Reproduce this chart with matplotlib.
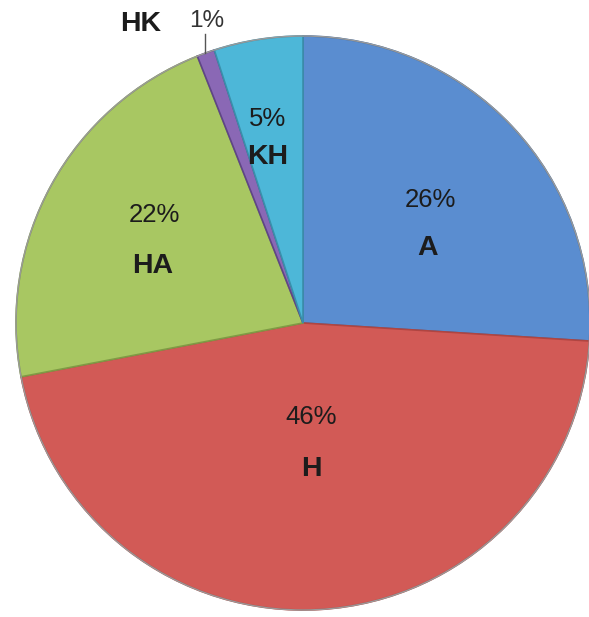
import matplotlib
matplotlib.use("Agg")
import matplotlib.pyplot as plt

# ── Datos ───────────────────────────────────────────────────
categorias = ["A", "H", "HA", "HK", "KH"]
valores = [26, 46, 22, 1, 5]
colores = ["#5a8dd0", "#d25a56", "#a8c762", "#8a68b5", "#4db7d8"]
bordes = ["#3d6aa3", "#b04541", "#7f9b45", "#5f4586", "#3a8fab"]

W, H = 589, 617
CX, CY, R = 303, 323, 287   # centro y radio en px de imagen


def yd(y_img):
    # coordenada de imagen (origen arriba) -> datos (origen abajo)
    return H - y_img


fig = plt.figure(figsize=(W / 100, H / 100), dpi=100)
ax = fig.add_axes([0, 0, 1, 1])

wedges, _ = ax.pie(
    valores, colors=colores, startangle=90, counterclock=False,
    center=(CX, yd(CY)), radius=R, frame=True,
    wedgeprops=dict(linewidth=1.2),
)
for w, ec in zip(wedges, bordes):
    w.set_edgecolor(ec)
ax.axis("off")
ax.set_xlim(0, W)
ax.set_ylim(0, H)
ax.set_aspect("equal")

# contorno suave alrededor del pastel
ax.add_patch(plt.Circle((CX, yd(CY)), R, fill=False, ec="#9a9a9a", lw=1.0))

FAM = ["Liberation Sans", "DejaVu Sans"]
TXT = "#1c1c1c"
PCT_SIZE = 18.5
LBL_SIZE = 20.5

# posiciones de etiquetas (px de imagen): (pct_x, pct_y, lbl_x, lbl_y)
pos = {
    "A": (430, 200, 428, 248),
    "H": (311, 417, 311, 469),
    "HA": (154, 215, 153, 266),
    "KH": (268, 119, 268, 157),
}
for cat, val in zip(categorias, valores):
    if cat not in pos:
        continue
    px, py, lx, ly = pos[cat]
    ax.text(px, yd(py), f"{val}%", ha="center", va="center",
            fontsize=PCT_SIZE, color=TXT, family=FAM)
    ax.text(lx, yd(ly), cat, ha="center", va="center",
            fontsize=LBL_SIZE, fontweight="bold", color=TXT, family=FAM)

# HK: etiquetas fuera con línea guía
i_hk = categorias.index("HK")
ax.text(141, yd(24), "HK", ha="center", va="center",
        fontsize=LBL_SIZE, fontweight="bold", color=TXT, family=FAM)
ax.text(207, yd(21), f"{valores[i_hk]}%", ha="center", va="center",
        fontsize=17.5, color="#333333", family=FAM)
ax.plot([205, 205], [yd(34), yd(53)], color="#555555", lw=1.0)

fig.savefig("out.png", dpi=100, facecolor="white")
